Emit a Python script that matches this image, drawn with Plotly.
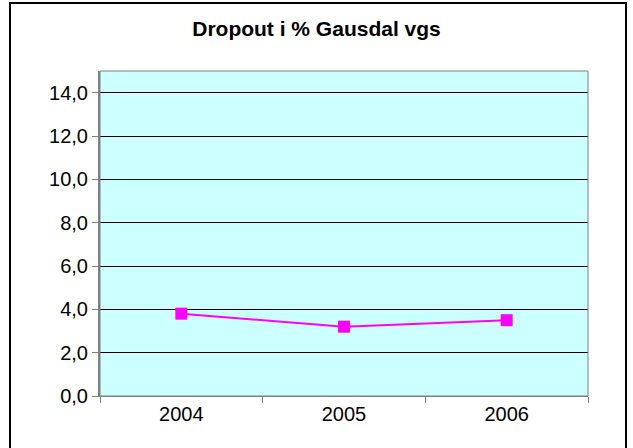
import plotly.graph_objects as go

years = ["2004", "2005", "2006"]
dropout = [3.8, 3.2, 3.5]
title_text = "Dropout i % Gausdal vgs"

fig = go.Figure()
fig.add_trace(go.Scatter(
    x=years, y=dropout, mode="lines+markers",
    line=dict(color="#FF00FF", width=2),
    marker=dict(symbol="square", size=12, color="#FF00FF"),
    showlegend=False,
))

fig.update_layout(
    width=633, height=448,
    margin=dict(l=100, r=45, t=71, b=52),
    paper_bgcolor="white",
    plot_bgcolor="#CCFFFF",
    separators=", ",
    font=dict(family="Liberation Sans, Arial, sans-serif", size=20, color="black"),
    title=dict(text="<b>" + title_text + "</b>", x=0.5, xanchor="center",
               y=1 - 29 / 448, yanchor="middle",
               font=dict(size=21, color="black")),
    xaxis=dict(
        type="category", range=[-0.5, 2.5],
        showgrid=False, showline=True, linecolor="#808080", linewidth=1,
        ticks="outside", tickson="boundaries", ticklen=6, tickcolor="#808080",
        mirror=False, zeroline=False,
    ),
    yaxis=dict(
        range=[0, 15], tickvals=[0, 2, 4, 6, 8, 10, 12, 14], tickformat=".1f",
        showgrid=True, gridcolor="black", gridwidth=1,
        showline=True, linecolor="#808080", linewidth=2,
        ticks="outside", ticklen=6, tickcolor="#808080",
        zeroline=False,
    ),
    shapes=[
        dict(type="rect", xref="paper", yref="paper", x0=0, x1=1, y0=0, y1=1,
             line=dict(color="#808080", width=1), fillcolor="rgba(0,0,0,0)"),
        dict(type="rect", xref="paper", yref="paper",
             x0=(10 - 100) / 488, x1=(626 - 100) / 488,
             y0=(396 - 452) / 325, y1=(396 - 3) / 325,
             line=dict(color="black", width=2), fillcolor="rgba(0,0,0,0)"),
    ],
)

fig.write_html("out.html", config={"displayModeBar": False},
               post_script="document.body.style.margin='0';")
